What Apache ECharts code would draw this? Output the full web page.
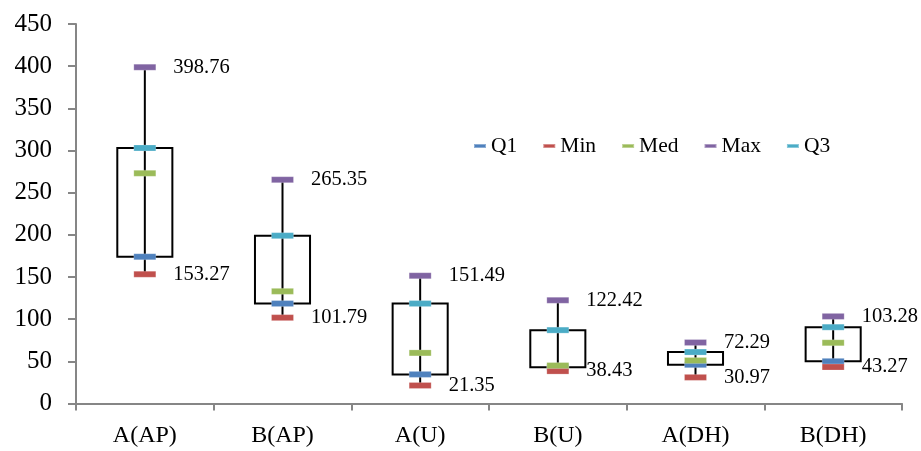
<!DOCTYPE html>
<html>
<head>
<meta charset="utf-8">
<script src="https://cdn.jsdelivr.net/npm/echarts@6/dist/echarts.min.js"></script>
<style>html,body{margin:0;padding:0;background:#fff;}#chart{width:921px;height:451px;}</style>
</head>
<body>
<div id="chart"></div>
<script>
var categories = ['A(AP)', 'B(AP)', 'A(U)', 'B(U)', 'A(DH)', 'B(DH)'];
var minVals = [153.27, 101.79, 21.35, 38.43, 30.97, 43.27];
var q1Vals = [174, 118.5, 34.5, 43, 46, 50];
var medVals = [273, 133, 60, 45, 51, 72];
var q3Vals = [303, 199, 118.5, 87, 61, 90.5];
var maxVals = [398.76, 265.35, 151.49, 122.42, 72.29, 103.28];
var yTicks = [0, 50, 100, 150, 200, 250, 300, 350, 400, 450];

var FONT = '"Liberation Serif", serif';
var colors = {Q1: '#4F81BD', Min: '#C0504D', Med: '#9BBB59', Max: '#8064A2', Q3: '#4BACC6'};

var boxData = categories.map(function (c, i) {
  return [i, minVals[i], q1Vals[i], medVals[i], q3Vals[i], maxVals[i]];
});

function markerSeries(name, vals, withLabel) {
  return {
    name: name,
    type: 'scatter',
    symbol: 'rect',
    symbolSize: [22, 6],
    itemStyle: {color: colors[name], opacity: 1, borderColor: 'rgba(255,255,255,0.35)', borderWidth: 0.5},
    z: 5,
    label: {
      show: withLabel,
      position: 'right',
      distance: 17,
      color: '#000',
      fontFamily: FONT,
      fontSize: 20.5,
      formatter: function (p) { return p.value[1].toFixed(2); }
    },
    emphasis: {disabled: true},
    data: vals.map(function (v, i) { return [i, v]; })
  };
}

var chart = echarts.init(document.getElementById('chart'), null, {renderer: 'canvas'});
chart.setOption({
  animation: false,
  backgroundColor: '#fff',
  grid: {left: 76, right: 19, top: 24, bottom: 47.5, containLabel: false},
  legend: {
    left: 468,
    top: 130,
    icon: 'rect',
    itemWidth: 12,
    itemHeight: 4,
    itemGap: 25,
    data: ['Q1', 'Min', 'Med', 'Max', 'Q3'],
    textStyle: {fontFamily: FONT, fontSize: 21.5, color: '#000', lineHeight: 22}
  },
  xAxis: {
    type: 'category',
    data: categories,
    boundaryGap: true,
    axisLine: {lineStyle: {color: '#868686', width: 2}},
    axisTick: {show: true, length: 7, lineStyle: {color: '#868686', width: 2}, alignWithLabel: false},
    axisLabel: {fontFamily: FONT, fontSize: 24, color: '#000', margin: 20},
    splitLine: {show: false}
  },
  yAxis: {
    type: 'value',
    min: yTicks[0],
    max: yTicks[yTicks.length - 1],
    interval: 50,
    axisLine: {show: true, lineStyle: {color: '#868686', width: 2}},
    axisTick: {show: true, length: 8, lineStyle: {color: '#868686', width: 2}},
    axisLabel: {fontFamily: FONT, fontSize: 25, color: '#000', margin: 24},
    splitLine: {show: false}
  },
  series: [
    {
      type: 'custom',
      name: 'box',
      z: 2,
      silent: true,
      renderItem: function (params, api) {
        var i = api.value(0);
        var pMin = api.coord([i, api.value(1)]);
        var pQ1 = api.coord([i, api.value(2)]);
        var pQ3 = api.coord([i, api.value(4)]);
        var pMax = api.coord([i, api.value(5)]);
        var w = api.size([1, 0])[0] * 0.4;
        return {
          type: 'group',
          children: [
            {
              type: 'line',
              shape: {x1: pMin[0], y1: pMin[1], x2: pMax[0], y2: pMax[1]},
              style: {stroke: '#000', lineWidth: 2}
            },
            {
              type: 'rect',
              shape: {x: pQ3[0] - w / 2, y: pQ3[1], width: w, height: pQ1[1] - pQ3[1]},
              style: {fill: null, stroke: '#000', lineWidth: 2}
            }
          ]
        };
      },
      encode: {x: 0, y: [1, 2, 3, 4, 5]},
      data: boxData
    },
    markerSeries('Q1', q1Vals, false),
    markerSeries('Min', minVals, true),
    markerSeries('Med', medVals, false),
    markerSeries('Max', maxVals, true),
    markerSeries('Q3', q3Vals, false)
  ]
});
</script>
</body>
</html>
